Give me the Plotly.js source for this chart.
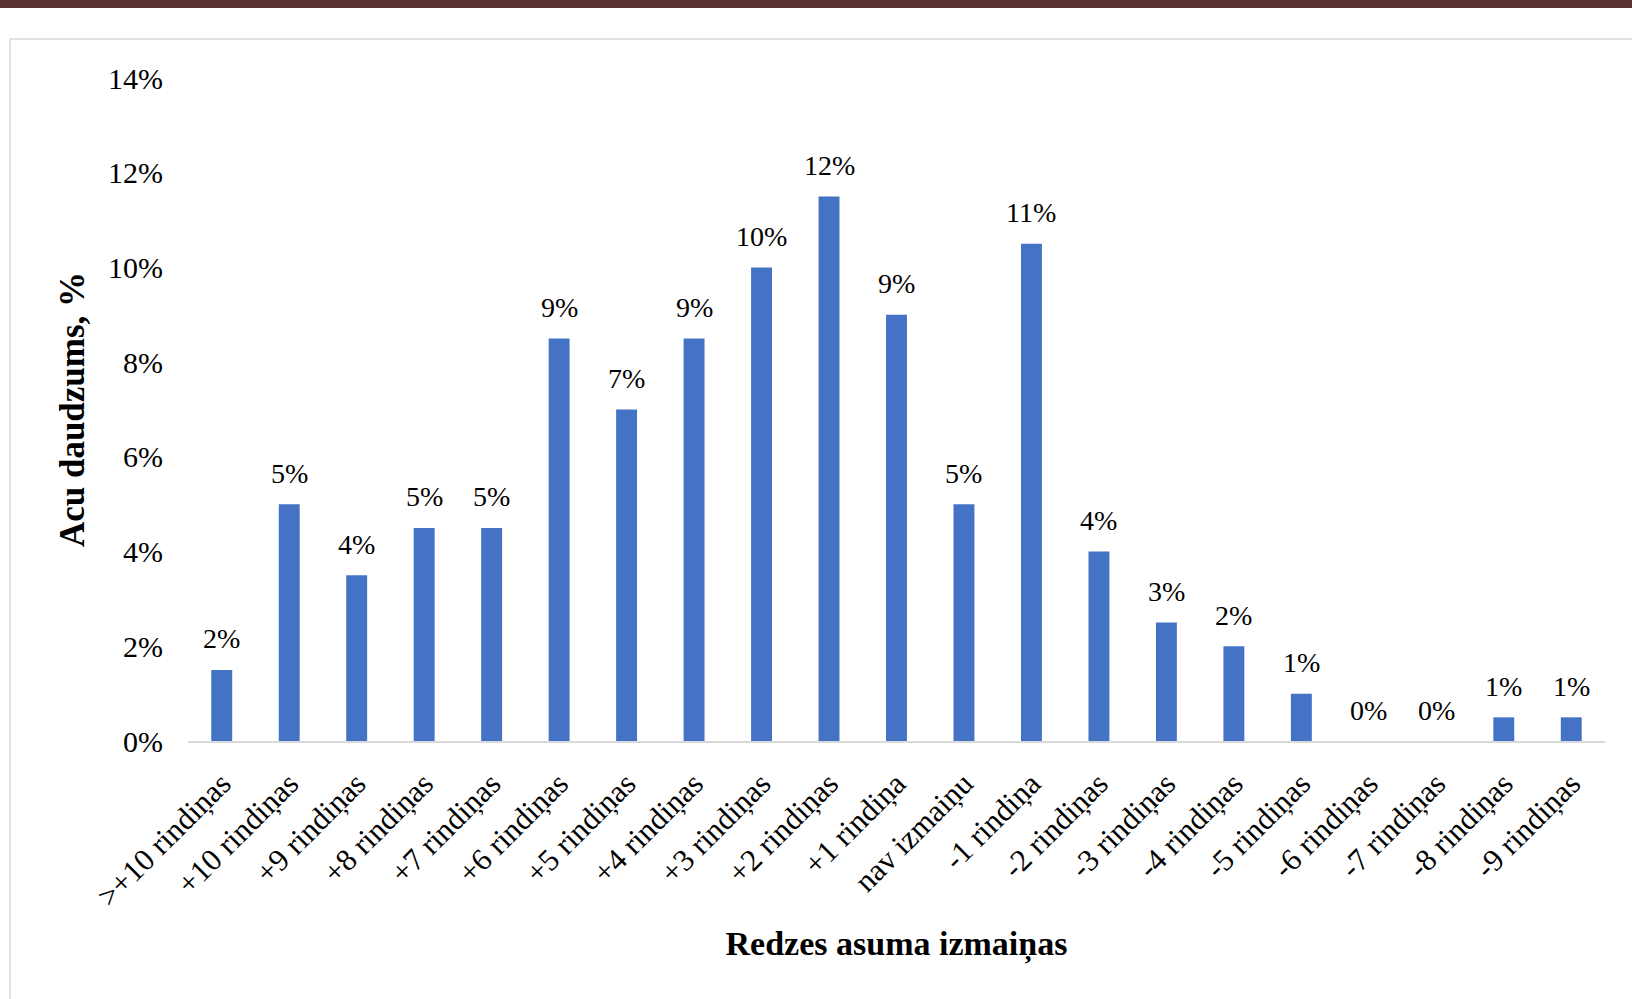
<!DOCTYPE html>
<html>
<head>
<meta charset="utf-8">
<script src="https://cdn.plot.ly/plotly-3.0.1.min.js"></script>
<style>
  html, body { margin: 0; padding: 0; background: #ffffff; }
  #band { position: absolute; left: 0; top: 0; width: 1632px; height: 8px; background: #5C3234; }
  #frame { position: absolute; left: 9px; top: 38px; width: 1640px; height: 1000px; border: 2px solid #E2E2E2; box-sizing: border-box; }
  #chart { position: absolute; left: 0; top: 0; width: 1632px; height: 999px; }
</style>
</head>
<body>
<div id="band"></div>
<div id="frame"></div>
<div id="chart"></div>
<script>
// Categories (change in visual acuity, rows)
const categories = [
  ">+10 rindiņas", "+10 rindiņas", "+9 rindiņas", "+8 rindiņas", "+7 rindiņas",
  "+6 rindiņas", "+5 rindiņas", "+4 rindiņas", "+3 rindiņas", "+2 rindiņas",
  "+1 rindiņa", "nav izmaiņu", "-1 rindiņa", "-2 rindiņas", "-3 rindiņas",
  "-4 rindiņas", "-5 rindiņas", "-6 rindiņas", "-7 rindiņas", "-8 rindiņas", "-9 rindiņas"
];
// Share of eyes, percent
const values = [1.5, 5.0, 3.5, 4.5, 4.5, 8.5, 7.0, 8.5, 10.0, 11.5, 9.0, 5.0, 10.5, 4.0, 2.5, 2.0, 1.0, 0, 0, 0.5, 0.5];
// Y tick values and labels
const yTicks = [0, 2, 4, 6, 8, 10, 12, 14];
const yTickLabels = ["0%", "2%", "4%", "6%", "8%", "10%", "12%", "14%"];

const serif = "'Liberation Serif', 'Times New Roman', serif";
const labels = values.map(v => Math.round(v) + "%");

const trace = {
  type: "bar",
  x: categories,
  y: values,
  marker: { color: "#4472C4" },
  hoverinfo: "x+y"
};

const annotations = categories.map((c, i) => ({
  x: c, y: values[i], xref: "x", yref: "y",
  text: labels[i], showarrow: false,
  yanchor: "middle", yshift: 31,
  font: { family: serif, size: 28, color: "#000000" }
}));

const layout = {
  width: 1632, height: 999,
  margin: { l: 188, r: 27, t: 78, b: 258 },
  paper_bgcolor: "rgba(0,0,0,0)",
  plot_bgcolor: "rgba(0,0,0,0)",
  showlegend: false,
  bargap: 0.69,
  xaxis: {
    type: "category",
    tickangle: -45,
    tickfont: { family: serif, size: 31, color: "#000000" },
    showline: true, linecolor: "#D9D9D9", linewidth: 2,
    showgrid: false, ticks: "", automargin: false,
    ticklabelstandoff: 10,
    title: { text: "Redzes asuma izmaiņas", font: { family: serif, size: 34, color: "#000000", weight: "bold" }, standoff: 19 }
  },
  yaxis: {
    range: [0, 14],
    tickmode: "array",
    tickvals: yTicks,
    ticktext: yTickLabels,
    tickfont: { family: serif, size: 30, color: "#000000" },
    showgrid: false, zeroline: false, showline: false, ticks: "",
    ticklabelstandoff: 24, automargin: false,
    title: { text: "Acu daudzums, %", font: { family: serif, size: 35, color: "#000000", weight: "bold" }, standoff: 12 }
  },
  annotations: annotations
};

Plotly.newPlot("chart", [trace], layout, { displayModeBar: false, staticPlot: true });
</script>
</body>
</html>
